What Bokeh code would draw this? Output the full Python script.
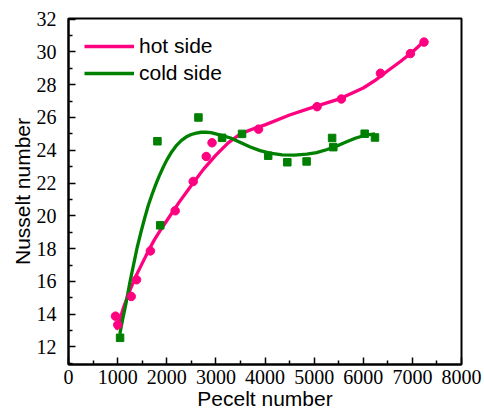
from bokeh.plotting import figure
from bokeh.models import Range1d, FixedTicker, Legend, LegendItem
from bokeh.embed import file_html
from bokeh.resources import INLINE

# measured points
hot_x = [957, 1003, 1277, 1385, 1667, 2172, 2539, 2804, 2922, 3868, 5060, 5555, 6350, 6960, 7237]
hot_y = [13.88, 13.35, 15.08, 16.10, 17.86, 20.31, 22.10, 23.62, 24.46, 25.29, 26.66, 27.13, 28.70, 29.90, 30.60]

cold_x = [1050, 1810, 1867, 2645, 3126, 3533, 4065, 4454, 4847, 5366, 5390, 6029, 6239]
cold_y = [12.56, 24.55, 19.42, 26.00, 24.76, 25.00, 23.67, 23.27, 23.32, 24.75, 24.19, 25.01, 24.78]

# fitted curves
hot_fit_x = [970, 1000, 1125, 1250, 1375, 1500, 1625, 1750, 1875, 2000, 2250, 2500, 2750,
             3000, 3250, 3500, 3750, 4000, 4500, 5000, 5500, 6000, 6250, 6500, 6750, 7000, 7240]
hot_fit_y = [13.05, 13.25, 14.45, 15.45, 16.35, 17.10, 17.85, 18.55, 19.15, 19.70, 20.82, 21.85,
             22.85, 23.70, 24.45, 25.00, 25.30, 25.55, 26.15, 26.65, 27.12, 27.80, 28.28,
             28.85, 29.40, 30.00, 30.65]

cold_fit_x = [1045, 1100, 1160, 1250, 1330, 1400, 1470, 1550, 1625, 1700, 1775, 1850, 1925,
              2000, 2100, 2200, 2300, 2400, 2500, 2600, 2700, 2800, 2900, 3000, 3150, 3300,
              3500, 3700, 3900, 4100, 4350, 4600, 4850, 5050, 5250, 5450, 5650, 5850, 6050, 6240]
cold_fit_y = [12.80, 13.65, 14.50, 15.95, 17.10, 18.10, 18.95, 19.85, 20.65, 21.30, 21.90,
              22.45, 22.95, 23.40, 23.90, 24.30, 24.60, 24.82, 24.96, 25.05, 25.10, 25.10,
              25.08, 25.00, 24.88, 24.75, 24.48, 24.20, 23.98, 23.83, 23.72, 23.70, 23.76,
              23.86, 24.03, 24.25, 24.50, 24.75, 24.92, 25.00]

x_ticks = [0, 1000, 2000, 3000, 4000, 5000, 6000, 7000, 8000]
x_minor = [500, 1500, 2500, 3500, 4500, 5500, 6500, 7500]
y_ticks = [12, 14, 16, 18, 20, 22, 24, 26, 28, 30, 32]
y_minor = [11, 13, 15, 17, 19, 21, 23, 25, 27, 29, 31]

PINK = "#FF0080"
GREEN = "#008000"
SERIF = "Liberation Serif"
SANS = "Liberation Sans"

p = figure(width=484, height=414, output_backend="svg", toolbar_location=None,
           x_range=Range1d(0, 8000), y_range=Range1d(10.93, 32.04),
           min_border_left=68, min_border_right=23, min_border_top=18, min_border_bottom=50)
p.background_fill_color = "white"
p.border_fill_color = "white"
p.outline_line_color = "black"
p.outline_line_width = 2
p.xgrid.visible = False
p.ygrid.visible = False

xa = p.xaxis[0]
ya = p.yaxis[0]
for ax in (xa, ya):
    ax.axis_line_width = 2
    ax.axis_line_color = "black"
    ax.major_tick_in = 7
    ax.major_tick_out = 0
    ax.minor_tick_in = 4
    ax.minor_tick_out = 0
    ax.major_tick_line_width = 1.5
    ax.minor_tick_line_width = 1.5
    ax.major_label_text_font = SERIF
    ax.major_label_text_font_size = "20px"
    ax.major_label_text_color = "black"
    ax.axis_label_text_font = SANS
    ax.axis_label_text_font_size = "21px"
    ax.axis_label_text_font_style = "normal"
    ax.axis_label_text_color = "black"
    ax.axis_label_standoff = 0

xa.ticker = FixedTicker(ticks=x_ticks, minor_ticks=x_minor)
ya.ticker = FixedTicker(ticks=y_ticks, minor_ticks=y_minor)
xa.axis_label = "Pecelt number"
ya.axis_label = "Nusselt number"
xa.major_label_standoff = 5
ya.major_label_standoff = 12

hot_line = p.line(hot_fit_x, hot_fit_y, line_color=PINK, line_width=3.3)
cold_line = p.line(cold_fit_x, cold_fit_y, line_color=GREEN, line_width=3.3)
p.scatter(hot_x, hot_y, marker="circle", size=8.5, fill_color=PINK, line_color=PINK)
p.scatter(cold_x, cold_y, marker="square", size=7.5, fill_color=GREEN, line_color=GREEN)

legend = Legend(items=[LegendItem(label="hot side", renderers=[hot_line]),
                       LegendItem(label="cold side", renderers=[cold_line])],
                location="top_left", margin=16, padding=0, spacing=3,
                glyph_width=50, glyph_height=24, label_height=24, label_standoff=5,
                label_text_font=SANS, label_text_font_size="21px",
                label_text_color="black", border_line_color=None,
                background_fill_alpha=0)
p.add_layout(legend)

open("out.html", "w").write(file_html(p, INLINE))
